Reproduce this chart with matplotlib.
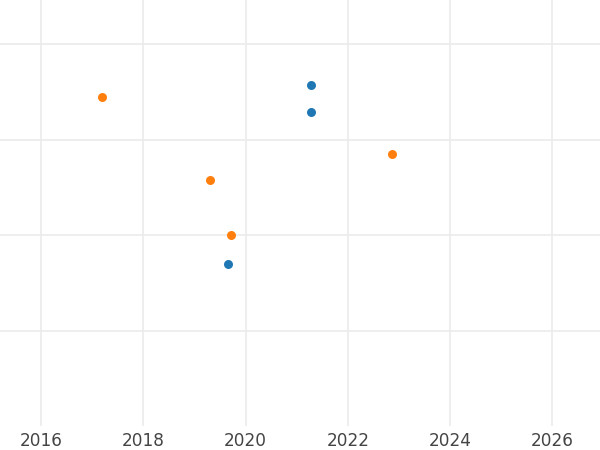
import matplotlib
matplotlib.use('Agg')
import matplotlib.pyplot as plt

# Données
x_orange = [2017.19, 2019.30, 2019.71, 2022.86]
y_orange = [3.45, 2.58, 2.00, 2.85]
x_bleu = [2021.28, 2021.28, 2019.65]
y_bleu = [3.57, 3.29, 1.70]
annees = [2016, 2018, 2020, 2022, 2024, 2026]

fig = plt.figure(figsize=(6, 4.5), dpi=100)
ax = fig.add_axes([0, 0.053, 1, 0.947])

ax.scatter(x_bleu, y_bleu, color='#1f77b4', s=42, zorder=3, linewidths=0)
ax.scatter(x_orange, y_orange, color='#ff7f0e', s=42, zorder=3, linewidths=0)

ax.set_xlim(2015.2, 2026.93)
ax.set_ylim(0, 4.46)
ax.set_xticks(annees)
ax.set_yticks([1, 2, 3, 4])
ax.set_yticklabels([])
ax.grid(True, color='#ebebeb', linewidth=1.2, zorder=0)
ax.set_axisbelow(True)
ax.tick_params(length=0, labelsize=12.2, labelcolor='#444444', pad=4)
for s in ax.spines.values():
    s.set_visible(False)

fig.savefig('out.png', dpi=100)
